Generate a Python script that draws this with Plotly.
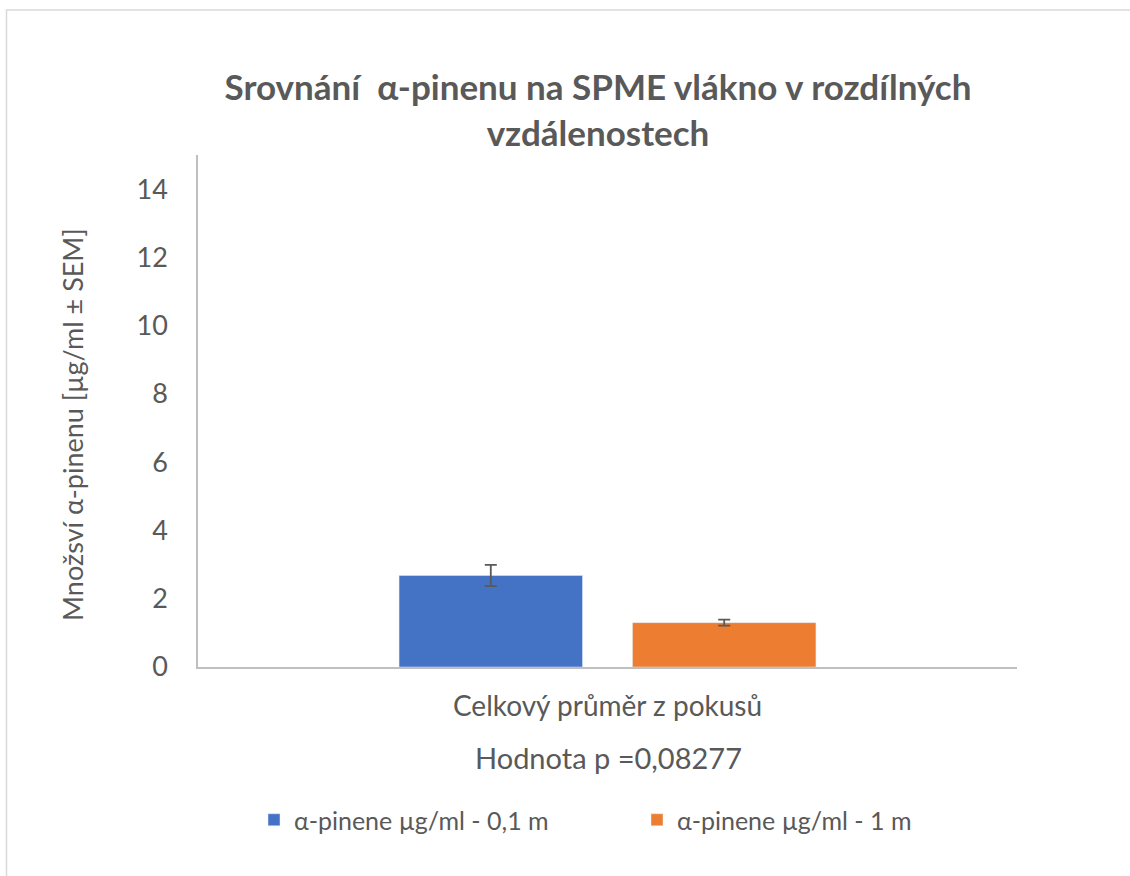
import plotly.graph_objects as go

# data
category = ["Celkový průměr z pokusů"]
series_names = ["α-pinene µg/ml - 0,1 m", "α-pinene µg/ml - 1 m"]
means = [2.68, 1.30]
sem = [0.31, 0.09]
colors = ["#4472C4", "#ED7D31"]
y_ticks = [0, 2, 4, 6, 8, 10, 12, 14]

font_family = "Lato, 'Open Sans', sans-serif"
text_color = "#595959"

W, H = 1130, 876
L, R, T, B = 198, 113, 155, 209
pw, ph = W - L - R, H - T - B


def px_x(x):
    return (x - L) / pw


def px_y(y):
    return (H - B - y) / ph


fig = go.Figure()
for name, m, e, c in zip(series_names, means, sem, colors):
    fig.add_trace(go.Bar(
        x=category, y=[m], name=name, marker_color=c,
        error_y=dict(type="data", array=[e], visible=True, color="#595959",
                     thickness=1.8, width=6),
    ))

fig.update_layout(
    width=W, height=H,
    margin=dict(l=L, r=R, t=T, b=B, autoexpand=False),
    paper_bgcolor="white", plot_bgcolor="white",
    font=dict(family=font_family, color=text_color, size=24),
    title=dict(
        text="<b>Srovnání  α-pinenu na SPME vlákno v rozdílných<br>vzdálenostech</b>",
        x=598 / W, xanchor="center", y=1 - 100 / H, yanchor="middle",
        font=dict(size=35, color=text_color),
    ),
    barmode="group", bargap=0.43, bargroupgap=0.214,
    showlegend=True,
    legend=dict(orientation="h", x=px_x(254), xanchor="left", y=px_y(820), yanchor="middle",
                font=dict(size=25, color=text_color), traceorder="normal",
                itemwidth=30, entrywidth=338),
)

fig.update_xaxes(
    showline=True, linecolor="#bfbfbf", linewidth=1.5, ticks="",
    tickfont=dict(size=28), automargin=False, ticklabelstandoff=14,
)
fig.update_yaxes(
    range=[0, 15], tickvals=y_ticks, showgrid=False, zeroline=False,
    showline=True, linecolor="#bfbfbf", linewidth=1.5,
    tickfont=dict(size=27), ticks="", ticklen=0, automargin=False,
    ticklabelstandoff=23,
)

# axis titles as annotations for exact placement
fig.add_annotation(text="Množsví α-pinenu [µg/ml ± SEM]", textangle=-90,
                   xref="paper", yref="paper", x=px_x(72), y=px_y(425),
                   xanchor="center", yanchor="middle", showarrow=False,
                   font=dict(size=27, color=text_color))
fig.add_annotation(text="Hodnota p =0,08277",
                   xref="paper", yref="paper", x=px_x(608), y=px_y(757),
                   xanchor="center", yanchor="middle", showarrow=False,
                   font=dict(size=29, color=text_color))

# light grey frame around the whole chart (only top and left visible)
fig.add_shape(type="rect", xref="paper", yref="paper",
              x0=px_x(6.5), x1=px_x(W + 10), y0=px_y(H + 10), y1=px_y(10),
              line=dict(color="#d9d9d9", width=1.5), fillcolor="rgba(0,0,0,0)", layer="below")

fig.write_html("out.html", config={"displayModeBar": False},
               post_script="document.body.style.margin='0px';")
